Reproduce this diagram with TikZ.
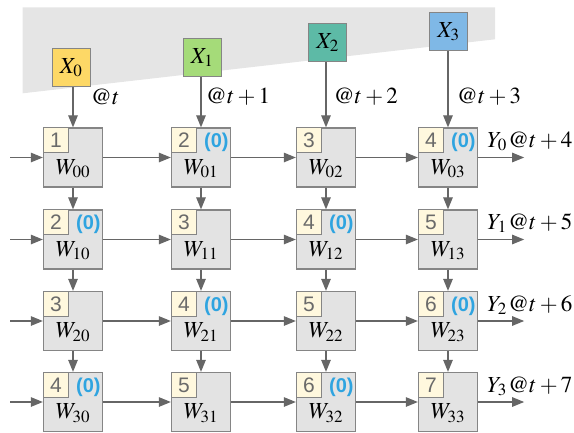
\documentclass[tikz,border=0pt]{standalone}
\usepackage{mathptmx}
\usepackage{fontspec}
\setmainfont{Liberation Serif}
\newfontfamily\numfont{Liberation Sans}
\usetikzlibrary{arrows.meta}

\definecolor{cellfill}{HTML}{E3E3E3}
\definecolor{edgegray}{HTML}{858585}
\definecolor{arrowgray}{HTML}{666666}
\definecolor{tagfill}{HTML}{FFF8DE}
\definecolor{tagtext}{HTML}{6A6A6A}
\definecolor{zeroblue}{HTML}{2FA4E0}
\definecolor{band}{HTML}{E5E5E5}
\definecolor{xyellow}{HTML}{FDD866}
\definecolor{xgreen}{HTML}{A5DB79}
\definecolor{xteal}{HTML}{5DBAA6}
\definecolor{xblue}{HTML}{7FB8E6}

\tikzset{
  cell/.style={draw=edgegray, fill=cellfill, line width=1.3pt,
    minimum size=59pt, inner sep=0pt},
  tag/.style={draw=edgegray, fill=tagfill, line width=1.1pt,
    minimum size=25pt, inner sep=0pt, text=tagtext,
    font=\numfont\fontsize{21}{21}\selectfont},
  zero/.style={text=zeroblue, inner sep=0pt,
    font=\numfont\bfseries\fontsize{20}{20}\selectfont},
  xbox/.style={draw=edgegray, line width=1.1pt, minimum size=38pt, inner sep=0pt},
  flow/.style={draw=arrowgray, line width=1.2pt,
    -{Triangle[length=12pt,width=9.5pt]}},
  lbl/.style={inner sep=0pt},
}

\begin{document}
\begin{tikzpicture}[x=1pt, y=-1pt, font=\fontsize{23}{26}\selectfont]
\useasboundingbox (0,0) rectangle (574,432);

% shaded band behind the inputs
\fill[band] (22.7,7.3) -- (495,7.3) -- (495,39.3) -- (22.7,93.3) -- cycle;

% grid of cells with their step numbers
\foreach \r/\cy in {0/157.5,1/239.5,2/321,3/402} {
  \foreach \c/\cx in {0/73,1/201,2/326,3/448} {
    \pgfmathtruncatemacro\k{\r+\c+1}
    \pgfmathtruncatemacro\odd{mod(\r+\c,2)}
    \node[cell] (W\r\c) at (\cx,\cy) {};
    \node[tag, anchor=north west] (N\r\c) at (W\r\c.north west) {\k};
    \node[lbl, anchor=base] (L\r\c) at ([yshift=-47pt]W\r\c.north) {$W_{\r\c}$};
    \ifnum\odd=1
      \node[zero, anchor=base west] (Z\r\c) at ([xshift=7pt]N\r\c.base east) {(0)};
    \fi
  }
}

% inputs
\node[xbox, fill=xyellow] (X0) at (71.2,67.5) {$X_0$};
\node[xbox, fill=xgreen]  (X1) at (202.2,57.3) {$X_1$};
\node[xbox, fill=xteal]   (X2) at (327.7,42.3) {$X_2$};
\node[xbox, fill=xblue]   (X3) at (448.5,31.7) {$X_3$};

\foreach \c in {0,...,3} {
  \draw[flow] (X\c.south -| W0\c.north) -- (W0\c.north);
}

\node[lbl, anchor=west] (T0) at (90.7,96.7) {$@t$};
\node[lbl, anchor=west] (T1) at (205.7,96.7) {$@t+1$};
\node[lbl, anchor=west] (T2) at (333.3,96.7) {$@t+2$};
\node[lbl, anchor=west] (T3) at (456.7,96.7) {$@t+3$};

% links between cells
\foreach \r in {0,...,3} {
  \coordinate (in\r) at (W\r0.west -| 10,0);
  \draw[flow] (in\r) -- (W\r0.west);
  \draw[flow] (W\r0.east) -- (W\r1.west);
  \draw[flow] (W\r1.east) -- (W\r2.west);
  \draw[flow] (W\r2.east) -- (W\r3.west);
  \coordinate (out\r) at ([xshift=46pt]W\r3.east);
  \draw[flow] (W\r3.east) -- (out\r);
}
\foreach \c in {0,...,3} {
  \draw[flow] (W0\c.south) -- (W1\c.north);
  \draw[flow] (W1\c.south) -- (W2\c.north);
  \draw[flow] (W2\c.south) -- (W3\c.north);
}

% outputs
\foreach \r/\s in {0/4,1/5,2/6,3/7} {
  \node[lbl, anchor=base west] (Y\r) at ([xshift=9pt,yshift=10pt]W\r3.east) {$Y_{\r}\mkern1mu@t+\s$};
}
\end{tikzpicture}
\end{document}
